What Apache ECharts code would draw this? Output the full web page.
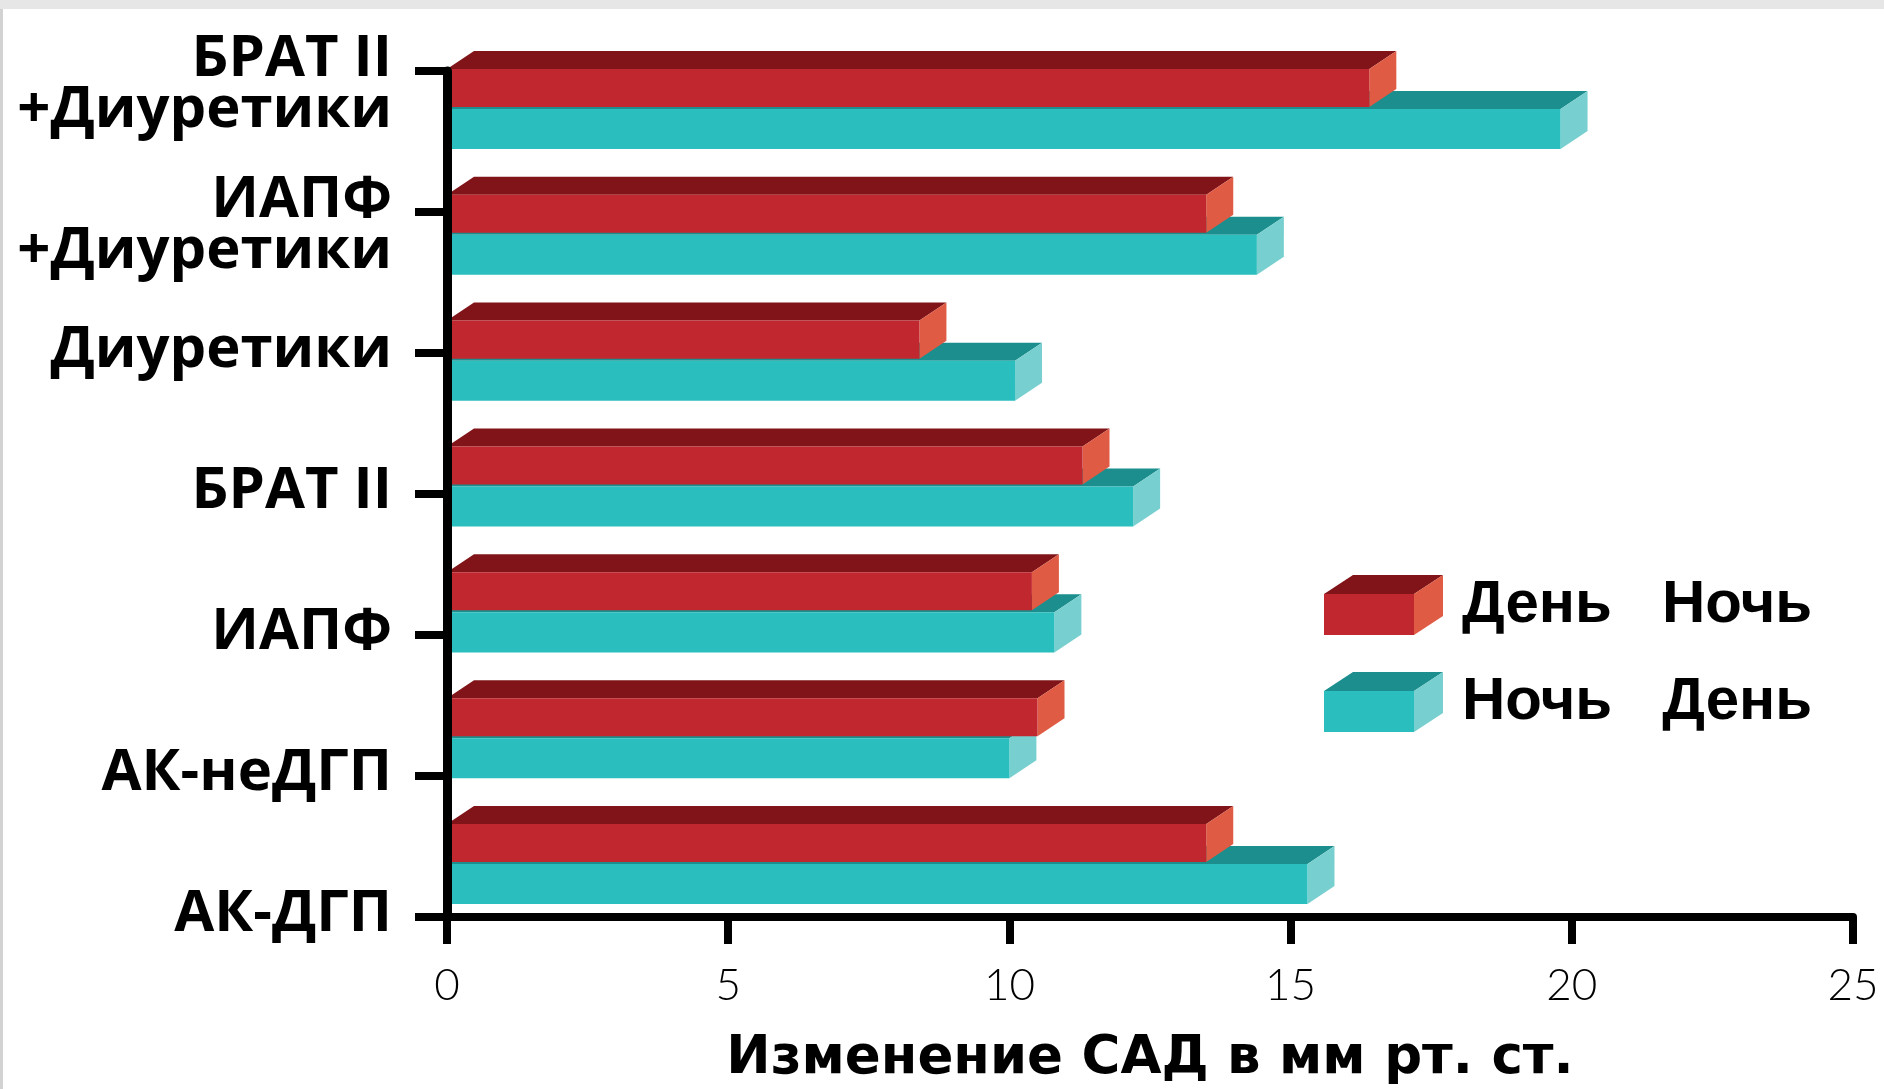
<!DOCTYPE html>
<html>
<head>
<meta charset="utf-8">
<script src="https://cdn.jsdelivr.net/npm/echarts@6/dist/echarts.min.js"></script>
<style>
  html, body { margin: 0; padding: 0; background: #ffffff; }
  #chart { width: 1884px; height: 1089px; }
</style>
</head>
<body>
<div id="chart"></div>
<script>
// Drug classes, top to bottom
const categories = ['БРАТ II\n+Диуретики', 'ИАПФ\n+Диуретики', 'Диуретики', 'БРАТ II', 'ИАПФ', 'АК-неДГП', 'АК-ДГП'];
// Change of systolic BP, mm Hg
const dayNight = [16.4, 13.5, 8.4, 11.3, 10.4, 10.5, 13.5];
const nightDay = [19.8, 14.4, 10.1, 12.2, 10.8, 10.0, 15.3];
const seriesNames = ['День   Ночь', 'Ночь   День'];
const xMin = 0, xMax = 25, xStep = 5;
const xTitle = 'Изменение САД в мм рт. ст.';

// Face colours of the extruded boxes
const RED = { front: '#C1272F', top: '#801418', side: '#DF5B44' };
const TEAL = { front: '#2BBEBE', top: '#1B8E8D', side: '#78CFCF' };
const DX = 27, DY = 18;          // extrusion offset in pixels
const BAR_FRAC = 0.318;          // bar thickness as a share of the category band
const SEAM = 2;

function boxRenderer(pal, upper) {
  return function (params, api) {
    const c = api.value(1);
    const v = api.value(0);
    const p0 = api.coord([0, c]);
    const p1 = api.coord([v, c]);
    const h = api.size([0, 1])[1] * BAR_FRAC;
    const x0 = p0[0], x1 = p1[0];
    const yT = upper ? p0[1] - h : p0[1];
    const yB = upper ? p0[1] - SEAM : p0[1] + h;
    return {
      type: 'group',
      children: [
        { type: 'polygon', shape: { points: [[x0, yT], [x0 + DX, yT - DY], [x1 + DX, yT - DY], [x1, yT]] }, style: { fill: pal.top } },
        { type: 'polygon', shape: { points: [[x1, yT], [x1 + DX, yT - DY], [x1 + DX, yB - DY], [x1, yB]] }, style: { fill: pal.side } },
        { type: 'rect', shape: { x: x0, y: yT, width: x1 - x0, height: yB - yT }, style: { fill: pal.front } }
      ]
    };
  };
}

function boxIcon(pal) {
  const w = 119, hh = 60, dx = 29, dy = 19, fw = 90;
  const svg = '<svg xmlns="http://www.w3.org/2000/svg" width="' + w + '" height="' + hh + '" viewBox="0 0 ' + w + ' ' + hh + '">' +
    '<polygon points="0,' + dy + ' ' + dx + ',0 ' + (fw + dx) + ',0 ' + fw + ',' + dy + '" fill="' + pal.top + '"/>' +
    '<polygon points="' + fw + ',' + dy + ' ' + (fw + dx) + ',0 ' + (fw + dx) + ',' + (hh - dy) + ' ' + fw + ',' + hh + '" fill="' + pal.side + '"/>' +
    '<rect x="0" y="' + dy + '" width="' + fw + '" height="' + (hh - dy) + '" fill="' + pal.front + '"/>' +
    '</svg>';
  return 'image://data:image/svg+xml;charset=utf-8,' + encodeURIComponent(svg);
}

const legendFont = { fontFamily: 'Liberation Sans, Arial, sans-serif', fontWeight: 'bold', fontSize: 60, color: '#000' };
const catFont = { fontFamily: 'Open Sans, Noto Sans, Liberation Sans, sans-serif', fontWeight: 'bold', fontSize: 58, color: '#000' };

const chart = echarts.init(document.getElementById('chart'), null, { renderer: 'canvas' });

chart.setOption({
  animation: false,
  backgroundColor: '#ffffff',
  graphic: [
    { type: 'rect', left: 0, top: 0, shape: { width: 1884, height: 9 }, style: { fill: '#e6e6e6' }, z: 0 },
    { type: 'rect', left: 0, top: 9, shape: { width: 3, height: 1080 }, style: { fill: '#d2d2d2' }, z: 0 }
  ],
  grid: [
    { left: 447, right: 31, top: 46, bottom: 162, outerBoundsMode: 'none', containLabel: false },
    { left: 447, right: 31, top: 71, bottom: 172, outerBoundsMode: 'none', containLabel: false }
  ],
  legend: {
    orient: 'vertical',
    left: 1319,
    top: 570,
    itemWidth: 119,
    itemHeight: 60,
    itemGap: 37,
    selectedMode: false,
    data: [
      { name: seriesNames[0], icon: boxIcon(RED) },
      { name: seriesNames[1], icon: boxIcon(TEAL) }
    ],
    textStyle: Object.assign({}, legendFont, { lineHeight: 60, padding: [0, 0, 0, 14] })
  },
  xAxis: [
    { gridIndex: 0, type: 'value', min: xMin, max: xMax, show: false },
    {
      gridIndex: 1, type: 'value', min: xMin, max: xMax, interval: xStep, z: 5,
      axisLine: { show: true, lineStyle: { color: '#000', width: 8 } },
      axisTick: { show: true, length: 27, lineStyle: { color: '#000', width: 8 } },
      splitLine: { show: false },
      axisLabel: { margin: 47, color: '#000', fontSize: 44, fontWeight: 300, fontFamily: 'Lato, Roboto, sans-serif' },
      name: xTitle,
      nameLocation: 'middle',
      nameGap: 116,
      nameTextStyle: { fontFamily: 'DejaVu Sans, sans-serif', fontWeight: 'bold', fontSize: 53, color: '#000' }
    }
  ],
  yAxis: [
    { gridIndex: 0, type: 'category', data: categories, inverse: true, show: false },
    {
      gridIndex: 1, type: 'category', data: categories, inverse: true, boundaryGap: false, z: 5,
      axisLine: { show: true, lineStyle: { color: '#000', width: 9 } },
      axisTick: { show: true, interval: 0, length: 32, lineStyle: { color: '#000', width: 8 } },
      splitLine: { show: false },
      axisLabel: {
        interval: 0,
        margin: 55,
        color: '#000',
        fontFamily: catFont.fontFamily,
        fontWeight: 'bold',
        fontSize: catFont.fontSize,
        formatter: function (v) {
          const parts = v.split('\n');
          return parts.length === 1 ? '{s|' + v + '}' : '{a|' + parts[0] + '}\n{b|' + parts[1] + '}';
        },
        rich: {
          s: Object.assign({}, catFont, { lineHeight: 58, padding: [0, 0, 6, 0] }),
          a: Object.assign({}, catFont, { lineHeight: 78 }),
          b: Object.assign({}, catFont, { lineHeight: 24 })
        }
      }
    }
  ],
  series: [
    {
      name: seriesNames[1],
      type: 'custom',
      xAxisIndex: 0, yAxisIndex: 0,
      z: 2,
      itemStyle: { color: TEAL.front },
      encode: { x: 0, y: 1 },
      data: nightDay.map(function (v, i) { return [v, i]; }),
      renderItem: boxRenderer(TEAL, false)
    },
    {
      name: seriesNames[0],
      type: 'custom',
      xAxisIndex: 0, yAxisIndex: 0,
      z: 3,
      itemStyle: { color: RED.front },
      encode: { x: 0, y: 1 },
      data: dayNight.map(function (v, i) { return [v, i]; }),
      renderItem: boxRenderer(RED, true)
    }
  ]
});
</script>
</body>
</html>
